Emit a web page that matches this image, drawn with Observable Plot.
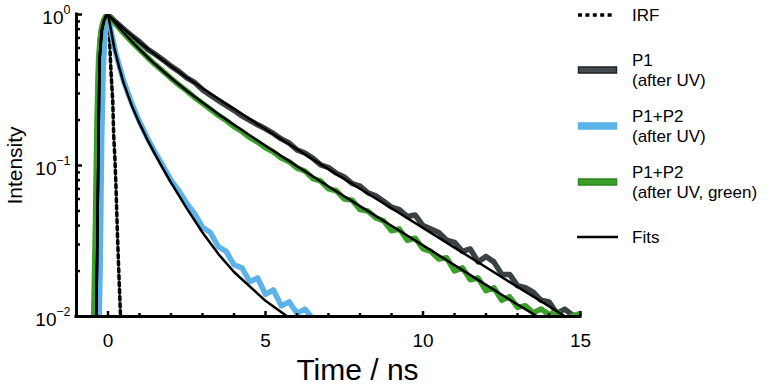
<!DOCTYPE html>
<html><head><meta charset="utf-8">
<script src="https://cdn.jsdelivr.net/npm/d3@7"></script>
<script src="https://cdn.jsdelivr.net/npm/@observablehq/plot@0.6"></script>
<style>
body{margin:0;background:#fff;font-family:"Liberation Sans",Arial,sans-serif;}
#wrap{position:relative;width:774px;height:387px;}
#legend{position:absolute;left:0;top:0;pointer-events:none;}
</style></head><body>
<div id="wrap"><div id="chart"></div><svg id="legend" width="774" height="387"></svg></div>
<script>
// ---- axis setup ----
const xDomain = [-1, 15];
const yDomain = [0.01, 1];
const xMajor = [0, 5, 10, 15];
const xMinor = [1, 2, 3, 4, 6, 7, 8, 9, 11, 12, 13, 14];
const yMajor = [0.01, 0.1, 1];
const yExponents = ["\u22122", "\u22121", "0"];
const yMinor = [0.02,0.03,0.04,0.05,0.06,0.07,0.08,0.09,0.2,0.3,0.4,0.5,0.6,0.7,0.8,0.9];

// ---- measured data (time in ns) ----
const dataTime = [-0.55,-0.5,-0.45,-0.4,-0.35,-0.3,-0.25,-0.2,-0.15,-0.1,-0.05,0,
  0.25,0.5,0.75,1,1.25,1.5,1.75,2,2.25,2.5,2.75,3,3.25,3.5,3.75,4,4.25,4.5,4.75,5,
  5.25,5.5,5.75,6,6.25,6.5,6.75,7,7.25,7.5,7.75,8,8.25,8.5,8.75,9,9.25,9.5,9.75,10,
  10.25,10.5,10.75,11,11.25,11.5,11.75,12,12.25,12.5,12.75,13,13.25,13.5,13.75,14,14.25,14.5,14.75,15];
const p1Data = [0.003,0.004,0.007,0.02,0.1,0.4,0.65,0.8,0.88,0.94,0.98,1.0,
  .89,.80,.725,.66,.59,.545,.50,.455,.42,.38,.355,.318,.292,.27,.25,.232,.213,.199,.186,.175,
  .163,.150,.141,.127,.121,.112,.101,.097,.089,.084,.076,.073,.066,.063,.058,.053,.051,.046,.047,.040,
  .038,.036,.032,.031,.027,.028,.023,.025,.023,.019,.019,.016,.0155,.0145,.0128,.0125,.0105,.0112,.0102,.0098];
const p1p2Data = [0.003,0.003,0.003,0.003,0.004,0.006,0.02,0.15,0.45,0.72,0.9,0.97,
  .55,.36,.26,.195,.152,.122,.099,.080,.068,.056,.048,.039,.036,.029,.027,.022,.021,.017,.018,.014,
  .015,.0118,.0125,.0105,.0112,.0097,.0075];
const greenData = [0.004,0.006,0.011,0.04,0.2,0.5,0.7,0.82,0.9,0.95,0.99,1.0,
  .86,.75,.66,.585,.52,.465,.42,.378,.342,.312,.282,.258,.236,.215,.199,.181,.168,.153,.143,.131,
  .123,.112,.106,.096,.092,.082,.079,.070,.068,.060,.059,.051,.050,.045,.043,.037,.038,.032,.033,.028,
  .027,.024,.0245,.020,.021,.0175,.018,.0148,.0155,.0128,.0135,.0115,.0118,.0106,.0112,.0103,.0108,.0096,.0101,.0105];

// ---- instrument response ----
const irfTime = [-0.3,-0.28,-0.24,-0.2,-0.15,-0.08,-0.02,0.03,0.06,0.1,0.15,0.18,0.22,0.25,0.3,0.35,0.39,0.43];
const irfData = [0.005,0.01,0.05,0.2,0.5,0.85,1.0,0.85,0.6,0.4,0.27,0.16,0.11,0.076,0.035,0.018,0.011,0.007];

// ---- fits ----
const fitTime = [-0.4,-0.37,-0.34,-0.31,-0.27,-0.2,-0.13,-0.06,0,0.1,0.2,0.35,0.5,0.75,1,1.25,1.5,1.75,2,2.5,3,3.5,4,5,6,7,8,9,10,11,12,13,14,15];
const fitP1 = [0.006,0.01,0.03,0.1,0.5,0.78,0.91,0.98,1.0,
  .955,.913,.856,.803,.724,.655,.596,.543,.496,.454,.383,.325,.277,.237,.174,.128,.0947,.0702,.0521,.0386,.0286,.0212,.0157,.0117,.0086];
const fitGreen = [0.006,0.01,0.03,0.1,0.5,0.78,0.91,0.98,1.0,
  .944,.892,.820,.757,.665,.588,.523,.468,.421,.380,.313,.261,.219,.186,.135,.099,.0726,.0538,.0399,.0296,.0219,.0162,.0120,.0090,.0066];
const fitP1P2 = [0.006,0.01,0.03,0.1,0.5,0.78,0.91,0.98,1.0,
  .78,.60,.45,.35,.25,.19,.148,.118,.095,.077,.052,.036,.026,.0197,.0127,.0090];

// ---- legend ----
const legendItems = [
  {lines: ["IRF"], y: 15, kind: "dots"},
  {lines: ["P1", "(after UV)"], y: 70, kind: "band", fill: "#454c51", edge: "#1c2124"},
  {lines: ["P1+P2", "(after UV)"], y: 126, kind: "band", fill: "#5cb3ea", edge: "#5cb3ea"},
  {lines: ["P1+P2", "(after UV, green)"], y: 182, kind: "band", fill: "#3aa02a", edge: "#2a861c"},
  {lines: ["Fits"], y: 237, kind: "line"}
];

const colors = {p1: "#3a4145", p1p2: "#5cb3ea", green: "#3aa02a", fit: "#000"};

const rows = (ts, vs) => ts.map((t, i) => ({t, v: vs[i]}));

const marks = [
  Plot.line(rows(irfTime, irfData), {x: "t", y: "v", stroke: "#000", strokeWidth: 3.5, strokeDasharray: "3.5,3.5", clip: true}),
  Plot.line(rows(dataTime, p1Data), {x: "t", y: "v", stroke: colors.p1, strokeWidth: 5.5, strokeLinejoin: "round", clip: true}),
  Plot.line(rows(dataTime, p1p2Data), {x: "t", y: "v", stroke: colors.p1p2, strokeWidth: 5.5, strokeLinejoin: "round", clip: true}),
  Plot.line(rows(dataTime, greenData), {x: "t", y: "v", stroke: colors.green, strokeWidth: 5.5, strokeLinejoin: "round", clip: true}),
  Plot.line(rows(fitTime, fitP1), {x: "t", y: "v", stroke: colors.fit, strokeWidth: 2.5, clip: true}),
  Plot.line(rows(fitTime, fitGreen), {x: "t", y: "v", stroke: colors.fit, strokeWidth: 2.5, clip: true}),
  Plot.line(rows(fitTime, fitP1P2), {x: "t", y: "v", stroke: colors.fit, strokeWidth: 2.5, clip: true}),
  Plot.ruleY([yDomain[0]], {stroke: "#000", strokeWidth: 3, strokeLinecap: "square"}),
  Plot.ruleX([xDomain[0]], {stroke: "#000", strokeWidth: 3, strokeLinecap: "square"}),
  Plot.axisX({ticks: xMajor, tickSize: -5, tickFormat: () => "", strokeWidth: 2.5, label: null}),
  Plot.axisX({ticks: xMinor, tickSize: -3, tickFormat: () => "", strokeWidth: 2.5, label: null}),
  Plot.axisY({ticks: yMajor, tickSize: -6, tickFormat: () => "", strokeWidth: 2.5, label: null}),
  Plot.axisY({ticks: yMinor, tickSize: -4, tickFormat: () => "", strokeWidth: 2.5, label: null}),
  Plot.text(xMajor, {x: d => d, frameAnchor: "bottom", dy: 24, fontSize: 19, text: d => String(d), lineAnchor: "middle"}),
  Plot.text(["Time / ns"], {frameAnchor: "bottom", dx: 29, dy: 54, fontSize: 30, lineAnchor: "middle", textAnchor: "middle"}),
  Plot.text(["Intensity"], {frameAnchor: "left", dx: -61, rotate: -90, fontSize: 21, lineAnchor: "middle", textAnchor: "middle"})
];
yMajor.forEach((v, i) => {
  const e = yExponents[i];
  const supW = e.length > 1 ? 14 : 7;
  marks.push(Plot.text([v], {y: d => d, frameAnchor: "left", text: () => "10", textAnchor: "end", dx: -6 - supW, dy: 3, fontSize: 19, lineAnchor: "middle"}));
  marks.push(Plot.text([v], {y: d => d, frameAnchor: "left", text: () => e, textAnchor: "end", dx: -6, dy: -5, fontSize: 12.5, lineAnchor: "middle"}));
});

const chart = Plot.plot({
  width: 774, height: 387,
  marginLeft: 76, marginRight: 194, marginTop: 14, marginBottom: 71,
  style: {fontFamily: "Liberation Sans, Arial, sans-serif", background: "white", color: "#000", overflow: "visible"},
  x: {domain: xDomain, axis: null},
  y: {type: "log", domain: yDomain, axis: null},
  marks
});
document.getElementById("chart").appendChild(chart);

// legend drawing
const lg = d3.select("#legend").attr("font-family", "Liberation Sans, Arial, sans-serif").attr("font-size", 17);
legendItems.forEach(item => {
  if (item.kind === "dots") {
    lg.append("line").attr("x1", 578).attr("x2", 612).attr("y1", item.y).attr("y2", item.y)
      .attr("stroke", "#000").attr("stroke-width", 3.5).attr("stroke-dasharray", "4 3.4");
  } else if (item.kind === "band") {
    lg.append("rect").attr("x", 578.5).attr("y", item.y - 3).attr("width", 38).attr("height", 6)
      .attr("fill", item.fill).attr("stroke", item.edge).attr("stroke-width", 1.5);
  } else {
    lg.append("line").attr("x1", 577).attr("x2", 618).attr("y1", item.y).attr("y2", item.y)
      .attr("stroke", "#000").attr("stroke-width", 2.5);
  }
  const n = item.lines.length;
  item.lines.forEach((s, j) => {
    const yy = n === 1 ? item.y : item.y + (j === 0 ? -9.5 : 10);
    lg.append("text").attr("x", 632).attr("y", yy).attr("dy", "0.35em").text(s);
  });
});
</script>
</body></html>
